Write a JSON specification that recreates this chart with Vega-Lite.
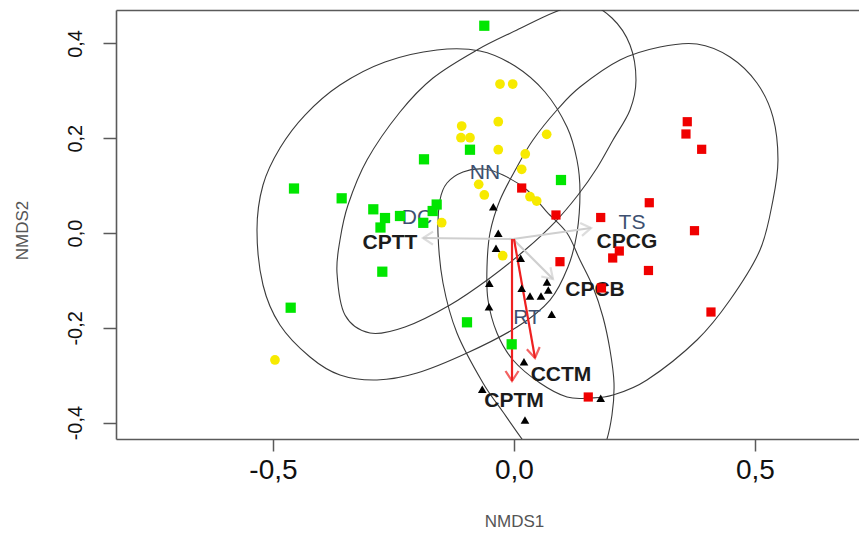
{
  "$schema": "https://vega.github.io/schema/vega-lite/v6.json",
  "autosize": "none",
  "padding": {"left": 116, "top": 10, "right": 0, "bottom": 107},
  "width": 743,
  "height": 429,
  "background": "white",
  "config": {
    "view": {"stroke": null},
    "font": "Liberation Sans",
    "axis": {"grid": false}
  },
  "datasets": {
    "pts": [
      {"g": "DC", "x": -0.0616, "y": 0.4373},
      {"g": "DC", "x": -0.0913, "y": 0.1757},
      {"g": "DC", "x": -0.1867, "y": 0.1555},
      {"g": "DC", "x": 0.0975, "y": 0.1118},
      {"g": "DC", "x": -0.4564, "y": 0.0939},
      {"g": "DC", "x": -0.3575, "y": 0.0732},
      {"g": "DC", "x": -0.2919, "y": 0.05},
      {"g": "DC", "x": -0.2676, "y": 0.0316},
      {"g": "DC", "x": -0.2365, "y": 0.0359},
      {"g": "DC", "x": -0.277, "y": 0.0116},
      {"g": "DC", "x": -0.1604, "y": 0.0601},
      {"g": "DC", "x": -0.1687, "y": 0.0464},
      {"g": "DC", "x": -0.1882, "y": 0.0215},
      {"g": "DC", "x": -0.2732, "y": -0.0816},
      {"g": "DC", "x": -0.4633, "y": -0.1576},
      {"g": "DC", "x": -0.0975, "y": -0.1884},
      {"g": "DC", "x": -0.0048, "y": -0.2348},
      {"g": "NN", "x": -0.029, "y": 0.3143},
      {"g": "NN", "x": -0.0027, "y": 0.3143},
      {"g": "NN", "x": -0.1085, "y": 0.2257},
      {"g": "NN", "x": -0.0326, "y": 0.2348},
      {"g": "NN", "x": -0.11, "y": 0.2011},
      {"g": "NN", "x": -0.0913, "y": 0.2011},
      {"g": "NN", "x": -0.0326, "y": 0.1757},
      {"g": "NN", "x": 0.0678, "y": 0.2082},
      {"g": "NN", "x": 0.0234, "y": 0.1667},
      {"g": "NN", "x": 0.016, "y": 0.1344},
      {"g": "NN", "x": -0.0732, "y": 0.1027},
      {"g": "NN", "x": -0.0616, "y": 0.0802},
      {"g": "NN", "x": 0.0332, "y": 0.0766},
      {"g": "NN", "x": 0.0471, "y": 0.0675},
      {"g": "NN", "x": -0.15, "y": 0.0217},
      {"g": "NN", "x": -0.0234, "y": -0.0479},
      {"g": "NN", "x": -0.4959, "y": -0.2679},
      {"g": "TS", "x": 0.3595, "y": 0.2348},
      {"g": "TS", "x": 0.3568, "y": 0.2089},
      {"g": "TS", "x": 0.3894, "y": 0.1766},
      {"g": "TS", "x": 0.016, "y": 0.0949},
      {"g": "TS", "x": 0.0871, "y": 0.038},
      {"g": "TS", "x": 0.1799, "y": 0.0327},
      {"g": "TS", "x": 0.2807, "y": 0.0639},
      {"g": "TS", "x": 0.3745, "y": 0.0049},
      {"g": "TS", "x": 0.2185, "y": -0.038},
      {"g": "TS", "x": 0.2048, "y": -0.0527},
      {"g": "TS", "x": 0.279, "y": -0.0791},
      {"g": "TS", "x": 0.0954, "y": -0.0605},
      {"g": "TS", "x": 0.1815, "y": -0.116},
      {"g": "TS", "x": 0.4087, "y": -0.1667},
      {"g": "TS", "x": 0.1541, "y": -0.346},
      {"g": "RT", "x": -0.0429, "y": 0.0555},
      {"g": "RT", "x": -0.0326, "y": -0.0006},
      {"g": "RT", "x": -0.0373, "y": -0.0323},
      {"g": "RT", "x": 0.0139, "y": -0.0534},
      {"g": "RT", "x": 0.0685, "y": -0.1034},
      {"g": "RT", "x": -0.0512, "y": -0.1061},
      {"g": "RT", "x": 0.016, "y": -0.1167},
      {"g": "RT", "x": 0.0332, "y": -0.1329},
      {"g": "RT", "x": 0.056, "y": -0.1329},
      {"g": "RT", "x": 0.0712, "y": -0.1203},
      {"g": "RT", "x": -0.0519, "y": -0.1555},
      {"g": "RT", "x": 0.0782, "y": -0.1715},
      {"g": "RT", "x": 0.0207, "y": -0.2715},
      {"g": "RT", "x": -0.0658, "y": -0.3297},
      {"g": "RT", "x": 0.1799, "y": -0.3487},
      {"g": "RT", "x": 0.0228, "y": -0.3945}
    ],
    "ell": [
      {"e": "DC", "i": 0, "x": -0.5332, "y": 0.0063},
      {"e": "DC", "i": 1, "x": -0.5207, "y": 0.1013},
      {"e": "DC", "i": 2, "x": -0.4855, "y": 0.1793},
      {"e": "DC", "i": 3, "x": -0.4336, "y": 0.2489},
      {"e": "DC", "i": 4, "x": -0.361, "y": 0.3122},
      {"e": "DC", "i": 5, "x": -0.2676, "y": 0.3608},
      {"e": "DC", "i": 6, "x": -0.1598, "y": 0.3861},
      {"e": "DC", "i": 7, "x": -0.0705, "y": 0.384},
      {"e": "DC", "i": 8, "x": 0.0021, "y": 0.3523},
      {"e": "DC", "i": 9, "x": 0.0643, "y": 0.2975},
      {"e": "DC", "i": 10, "x": 0.11, "y": 0.2236},
      {"e": "DC", "i": 11, "x": 0.1307, "y": 0.154},
      {"e": "DC", "i": 12, "x": 0.1369, "y": 0.0865},
      {"e": "DC", "i": 13, "x": 0.1307, "y": 0.0},
      {"e": "DC", "i": 14, "x": 0.112, "y": -0.0717},
      {"e": "DC", "i": 15, "x": 0.0747, "y": -0.1414},
      {"e": "DC", "i": 16, "x": 0.0062, "y": -0.1983},
      {"e": "DC", "i": 17, "x": -0.0975, "y": -0.2532},
      {"e": "DC", "i": 18, "x": -0.2012, "y": -0.2954},
      {"e": "DC", "i": 19, "x": -0.2842, "y": -0.3101},
      {"e": "DC", "i": 20, "x": -0.361, "y": -0.2996},
      {"e": "DC", "i": 21, "x": -0.4232, "y": -0.2616},
      {"e": "DC", "i": 22, "x": -0.4855, "y": -0.1941},
      {"e": "DC", "i": 23, "x": -0.5207, "y": -0.1097},
      {"e": "NN", "i": 0, "x": -0.3672, "y": -0.0844},
      {"e": "NN", "i": 1, "x": -0.361, "y": -0.0148},
      {"e": "NN", "i": 2, "x": -0.3444, "y": 0.0591},
      {"e": "NN", "i": 3, "x": -0.305, "y": 0.154},
      {"e": "NN", "i": 4, "x": -0.2365, "y": 0.2553},
      {"e": "NN", "i": 5, "x": -0.168, "y": 0.327},
      {"e": "NN", "i": 6, "x": -0.0768, "y": 0.3861},
      {"e": "NN", "i": 7, "x": 0.0062, "y": 0.4283},
      {"e": "NN", "i": 8, "x": 0.0851, "y": 0.4662},
      {"e": "NN", "i": 9, "x": 0.1473, "y": 0.4852},
      {"e": "NN", "i": 10, "x": 0.2033, "y": 0.4536},
      {"e": "NN", "i": 11, "x": 0.2407, "y": 0.3966},
      {"e": "NN", "i": 12, "x": 0.2531, "y": 0.3228},
      {"e": "NN", "i": 13, "x": 0.2407, "y": 0.2595},
      {"e": "NN", "i": 14, "x": 0.2054, "y": 0.1962},
      {"e": "NN", "i": 15, "x": 0.1722, "y": 0.1371},
      {"e": "NN", "i": 16, "x": 0.1328, "y": 0.0802},
      {"e": "NN", "i": 17, "x": 0.0851, "y": 0.0232},
      {"e": "NN", "i": 18, "x": 0.0228, "y": -0.0359},
      {"e": "NN", "i": 19, "x": -0.0498, "y": -0.0949},
      {"e": "NN", "i": 20, "x": -0.1328, "y": -0.1519},
      {"e": "NN", "i": 21, "x": -0.2261, "y": -0.1983},
      {"e": "NN", "i": 22, "x": -0.2988, "y": -0.211},
      {"e": "NN", "i": 23, "x": -0.3506, "y": -0.173},
      {"e": "TS", "i": 0, "x": 0.3029, "y": 0.3924},
      {"e": "TS", "i": 1, "x": 0.3797, "y": 0.3987},
      {"e": "TS", "i": 2, "x": 0.4481, "y": 0.3713},
      {"e": "TS", "i": 3, "x": 0.5041, "y": 0.3165},
      {"e": "TS", "i": 4, "x": 0.5373, "y": 0.2447},
      {"e": "TS", "i": 5, "x": 0.5477, "y": 0.154},
      {"e": "TS", "i": 6, "x": 0.5373, "y": 0.0696},
      {"e": "TS", "i": 7, "x": 0.5104, "y": -0.0359},
      {"e": "TS", "i": 8, "x": 0.4481, "y": -0.1414},
      {"e": "TS", "i": 9, "x": 0.3797, "y": -0.2257},
      {"e": "TS", "i": 10, "x": 0.2759, "y": -0.3101},
      {"e": "TS", "i": 11, "x": 0.2054, "y": -0.3418},
      {"e": "TS", "i": 12, "x": 0.1577, "y": -0.3481},
      {"e": "TS", "i": 13, "x": 0.11, "y": -0.346},
      {"e": "TS", "i": 14, "x": 0.0539, "y": -0.3165},
      {"e": "TS", "i": 15, "x": -0.0021, "y": -0.2679},
      {"e": "TS", "i": 16, "x": -0.0353, "y": -0.211},
      {"e": "TS", "i": 17, "x": -0.0539, "y": -0.1414},
      {"e": "TS", "i": 18, "x": -0.056, "y": -0.0717},
      {"e": "TS", "i": 19, "x": -0.0498, "y": 0.0},
      {"e": "TS", "i": 20, "x": -0.029, "y": 0.0696},
      {"e": "TS", "i": 21, "x": 0.0062, "y": 0.1392},
      {"e": "TS", "i": 22, "x": 0.0394, "y": 0.1962},
      {"e": "TS", "i": 23, "x": 0.0892, "y": 0.2595},
      {"e": "TS", "i": 24, "x": 0.1369, "y": 0.308},
      {"e": "TS", "i": 25, "x": 0.2199, "y": 0.365},
      {"e": "RT", "i": 0, "x": -0.139, "y": 0.1055},
      {"e": "RT", "i": 1, "x": -0.1058, "y": 0.1287},
      {"e": "RT", "i": 2, "x": -0.0643, "y": 0.135},
      {"e": "RT", "i": 3, "x": -0.0228, "y": 0.1224},
      {"e": "RT", "i": 4, "x": 0.027, "y": 0.0907},
      {"e": "RT", "i": 5, "x": 0.0685, "y": 0.0443},
      {"e": "RT", "i": 6, "x": 0.11, "y": 0.0},
      {"e": "RT", "i": 7, "x": 0.1369, "y": -0.057},
      {"e": "RT", "i": 8, "x": 0.1639, "y": -0.1139},
      {"e": "RT", "i": 9, "x": 0.1846, "y": -0.1772},
      {"e": "RT", "i": 10, "x": 0.1992, "y": -0.2468},
      {"e": "RT", "i": 11, "x": 0.2075, "y": -0.3165},
      {"e": "RT", "i": 12, "x": 0.2033, "y": -0.384},
      {"e": "RT", "i": 13, "x": 0.1888, "y": -0.4473},
      {"e": "RT", "i": 14, "x": 0.1618, "y": -0.4937},
      {"e": "RT", "i": 15, "x": 0.1203, "y": -0.5148},
      {"e": "RT", "i": 16, "x": 0.0788, "y": -0.5042},
      {"e": "RT", "i": 17, "x": 0.0436, "y": -0.4705},
      {"e": "RT", "i": 18, "x": 0.0166, "y": -0.4346},
      {"e": "RT", "i": 19, "x": -0.0228, "y": -0.3776},
      {"e": "RT", "i": 20, "x": -0.0643, "y": -0.3165},
      {"e": "RT", "i": 21, "x": -0.1183, "y": -0.211},
      {"e": "RT", "i": 22, "x": -0.1473, "y": -0.1055},
      {"e": "RT", "i": 23, "x": -0.1577, "y": 0.0},
      {"e": "RT", "i": 24, "x": -0.1535, "y": 0.0696}
    ],
    "arrows": [
      {"v": "CPTT", "t": "env", "x0": -0.0021, "y0": -0.0127, "x1": -0.1888, "y1": -0.0105},
      {"v": "CPCG", "t": "env", "x0": -0.0021, "y0": -0.0127, "x1": 0.1598, "y1": 0.0105},
      {"v": "CPCB", "t": "env", "x0": -0.0021, "y0": -0.0127, "x1": 0.0809, "y1": -0.097},
      {"v": "CPTM", "t": "sig", "x0": -0.0041, "y0": -0.0127, "x1": -0.0041, "y1": -0.3122},
      {"v": "CCTM", "t": "sig", "x0": 0.0, "y0": -0.0127, "x1": 0.0436, "y1": -0.2637}
    ],
    "vlabels": [
      {"v": "CPTT", "x": -0.2573, "y": -0.0211},
      {"v": "CPCG", "x": 0.2344, "y": -0.019},
      {"v": "CPCB", "x": 0.168, "y": -0.1203},
      {"v": "CCTM", "x": 0.0975, "y": -0.2996},
      {"v": "CPTM", "x": 0.0, "y": -0.3544}
    ],
    "glabels": [
      {"g": "DC", "x": -0.2012, "y": 0.0316},
      {"g": "NN", "x": -0.0602, "y": 0.1266},
      {"g": "TS", "x": 0.2448, "y": 0.0211},
      {"g": "RT", "x": 0.027, "y": -0.1793}
    ]
  },
  "resolve": {"axis": {"x": "independent"}},
  "layer": [
    {
      "data": {"name": "ell"},
      "mark": {"type": "line", "interpolate": "cardinal-closed", "clip": true, "stroke": "#3a3a3a", "strokeWidth": 1.1},
      "encoding": {
        "x": {"field": "x", "type": "quantitative", "scale": {"domain": [-0.8257, 0.7158], "nice": false, "zero": false},
          "axis": {"orient": "top", "labels": false, "ticks": false, "title": null, "domainColor": "#5a5a5a", "domainWidth": 1.6}},
        "y": {"field": "y", "type": "quantitative", "scale": {"domain": [-0.4346, 0.4705], "nice": false, "zero": false},
          "axis": {"values": [-0.4, -0.2, 0, 0.2, 0.4], "labelExpr": "replace(replace(format(datum.value,'.1f'),'.',','),'\u2212','-')",
            "labelAngle": -90, "labelAlign": "center", "labelBaseline": "bottom", "labelFontSize": 20, "labelColor": "#111",
            "labelPadding": 18, "tickSize": 13, "tickColor": "#5a5a5a", "tickWidth": 1.5, "domainColor": "#5a5a5a", "domainWidth": 1.6,
            "title": "NMDS2", "titleFontSize": 17, "titleFontWeight": "normal", "titleColor": "#555", "titlePadding": 34, "titleY": 220}},
        "detail": {"field": "e"},
        "order": {"field": "i", "type": "quantitative"}
      }
    },
    {
      "data": {"name": "glabels"},
      "mark": {"type": "text", "fontSize": 21, "color": "#3d5070", "align": "center", "baseline": "middle"},
      "encoding": {
        "x": {"field": "x", "type": "quantitative",
          "axis": {"orient": "bottom", "values": [-0.5, 0, 0.5], "labelExpr": "replace(replace(format(datum.value,'.1f'),'.',','),'\u2212','-')",
            "labelFont": "Liberation Sans Narrow, Liberation Sans", "labelFontSize": 28, "labelColor": "#111", "labelPadding": 5,
            "tickSize": 12, "tickColor": "#5a5a5a", "tickWidth": 1.5, "domainColor": "#5a5a5a", "domainWidth": 1.6,
            "title": "NMDS1", "titleFontSize": 17, "titleFontWeight": "normal", "titleColor": "#555", "titlePadding": 29, "titleX": 398, "titleAlign": "center"}},
        "y": {"field": "y", "type": "quantitative"},
        "text": {"field": "g"}
      }
    },
    {
      "data": {"name": "arrows"},
      "mark": {"type": "rule", "strokeWidth": 2.2},
      "encoding": {
        "x": {"field": "x0", "type": "quantitative", "axis": null},
        "y": {"field": "y0", "type": "quantitative"},
        "x2": {"field": "x1"},
        "y2": {"field": "y1"},
        "color": {"field": "t", "type": "nominal", "scale": {"domain": ["env", "sig"], "range": ["#cfcfcf", "#ee2020"]}, "legend": null}
      }
    },
    {
      "data": {"name": "arrows"},
      "transform": [{"calculate": "atan2(-(datum.y1 - datum.y0) * 474, (datum.x1 - datum.x0) * 482) * 180 / PI", "as": "ang"}],
      "mark": {"type": "point", "shape": "M-2,-1.3L0,0L-2,1.3", "filled": false, "strokeWidth": 2.2, "size": 100},
      "encoding": {
        "x": {"field": "x1", "type": "quantitative", "axis": null},
        "y": {"field": "y1", "type": "quantitative"},
        "angle": {"field": "ang", "type": "quantitative", "scale": null},
        "color": {"field": "t", "type": "nominal", "legend": null}
      }
    },
    {
      "data": {"name": "vlabels"},
      "mark": {"type": "text", "fontSize": 21, "fontWeight": "bold", "color": "#1c1c1c", "align": "center", "baseline": "middle"},
      "encoding": {
        "x": {"field": "x", "type": "quantitative", "axis": null},
        "y": {"field": "y", "type": "quantitative"},
        "text": {"field": "v"}
      }
    },
    {
      "data": {"name": "pts"},
      "mark": {"type": "point", "filled": true, "opacity": 1, "strokeWidth": 0},
      "encoding": {
        "x": {"field": "x", "type": "quantitative", "axis": null},
        "y": {"field": "y", "type": "quantitative"},
        "fill": {"field": "g", "type": "nominal", "scale": {"domain": ["DC", "NN", "TS", "RT"], "range": ["#00e600", "#f7ea00", "#f00000", "#000000"]}, "legend": null},
        "shape": {"field": "g", "type": "nominal", "scale": {"domain": ["DC", "NN", "TS", "RT"], "range": ["square", "circle", "square", "triangle-up"]}, "legend": null},
        "size": {"field": "g", "type": "nominal", "scale": {"domain": ["DC", "NN", "TS", "RT"], "range": [105, 75, 105, 140]}, "legend": null}
      }
    }
  ]
}
